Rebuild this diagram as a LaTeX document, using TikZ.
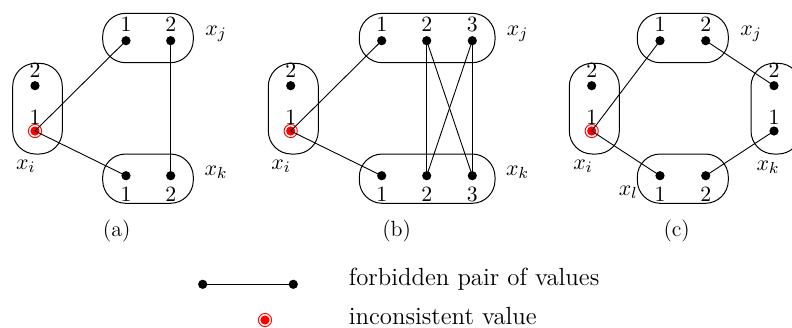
\documentclass[tikz,border=0pt]{standalone}
\begin{document}
\begin{tikzpicture}[x=0.5pt,y=-0.5pt,
 dot/.style={circle,fill=black,inner sep=0pt,minimum size=4.6pt},
 bad/.style={circle,draw=red,line width=0.45pt,fill=white,inner sep=0pt,minimum size=6.6pt,
   path picture={\fill[red] (path picture bounding box.center) circle (2.3pt);}},
 box/.style={draw,line width=0.5pt,rounded corners=11.5pt},
 conn/.style={line width=0.45pt},
 num/.style={font=\fontsize{10.9}{12}\selectfont,inner sep=0pt,anchor=base},
 var/.style={font=\fontsize{11}{12}\selectfont,inner sep=0pt,anchor=base},
 captxt/.style={font=\fontsize{11}{12}\selectfont,inner sep=0pt,anchor=base},
 leg/.style={font=\fontsize{12.4}{14}\selectfont,inner sep=0pt,anchor=base west}]
\useasboundingbox (0,0) rectangle (792,327);

% ---------- panel (a) ----------
\draw[box] (12.7,63.3) rectangle (62.3,154);
\draw[box] (102.7,13.3) rectangle (193.3,62.7);
\draw[box] (102.7,154) rectangle (193.3,203.3);
\node[dot] (ai2) at (35,85.7) {};
\node[bad] (ai1) at (35,131) {};
\node[dot] (aj1) at (126,40.7) {};
\node[dot] (aj2) at (170.7,40.7) {};
\node[dot] (ak1) at (126,175.7) {};
\node[dot] (ak2) at (170.7,175.7) {};
\node[num] (nai2) at (35,77.3) {2};
\node[num] (nai1) at (35,124) {1};
\node[num] (naj1) at (126,31.7) {1};
\node[num] (naj2) at (170.7,31.7) {2};
\node[num] (nak1) at (126,201.7) {1};
\node[num] (nak2) at (170.7,201.7) {2};
\node[var] (axi) at (25.7,169.3) {$x_i$};
\node[var] (axj) at (216,35) {$x_j$};
\node[var] (axk) at (216,175) {$x_k$};
\node[captxt] (capa) at (116.7,236.7) {(a)};
\draw[conn] (ai1.center) -- (aj1.center);
\draw[conn] (ai1.center) -- (ak1.center);
\draw[conn] (aj2.center) -- (ak2.center);

% ---------- panel (b) ----------
\draw[box] (268.3,63.3) rectangle (318.3,154);
\draw[box] (359.3,13.3) rectangle (495,62.7);
\draw[box] (359.3,154) rectangle (495,203.3);
\node[dot] (bi2) at (290.7,85.7) {};
\node[bad] (bi1) at (290.7,131) {};
\node[dot] (bj1) at (381.7,40.7) {};
\node[dot] (bj2) at (426.7,40.7) {};
\node[dot] (bj3) at (472.3,40.7) {};
\node[dot] (bk1) at (381.7,175.7) {};
\node[dot] (bk2) at (426.7,175.7) {};
\node[dot] (bk3) at (472.3,175.7) {};
\node[num] (nbi2) at (290.7,77.3) {2};
\node[num] (nbi1) at (290.7,124) {1};
\node[num] (nbj1) at (381.7,31.7) {1};
\node[num] (nbj2) at (426.7,31.7) {2};
\node[num] (nbj3) at (472.3,31.7) {3};
\node[num] (nbk1) at (381.7,201.7) {1};
\node[num] (nbk2) at (426.7,201.7) {2};
\node[num] (nbk3) at (472.3,201.7) {3};
\node[var] (bxi) at (281,169.3) {$x_i$};
\node[var] (bxj) at (517.5,35) {$x_j$};
\node[var] (bxk) at (517.5,175) {$x_k$};
\node[captxt] (capb) at (396.7,236.7) {(b)};
\draw[conn] (bi1.center) -- (bj1.center);
\draw[conn] (bi1.center) -- (bk1.center);
\draw[conn] (bj2.center) -- (bk2.center);
\draw[conn] (bj2.center) -- (bk3.center);
\draw[conn] (bj3.center) -- (bk2.center);
\draw[conn] (bj3.center) -- (bk3.center);

% ---------- panel (c) ----------
\draw[box] (569.3,63.3) rectangle (619.3,154);
\draw[box] (637.3,13.3) rectangle (728.3,62.7);
\draw[box] (751,63.3) rectangle (801,154);
\draw[box] (637.3,154) rectangle (728.3,203.3);
\node[dot] (ci2) at (591.7,85.7) {};
\node[bad] (ci1) at (591.7,131) {};
\node[dot] (cj1) at (660,40.7) {};
\node[dot] (cj2) at (705.7,40.7) {};
\node[dot] (ck2) at (774,85.7) {};
\node[dot] (ck1) at (774,131) {};
\node[dot] (cl1) at (660,175.7) {};
\node[dot] (cl2) at (705.7,175.7) {};
\node[num] (nci2) at (591.7,77.3) {2};
\node[num] (nci1) at (591.7,124) {1};
\node[num] (ncj1) at (660,31.7) {1};
\node[num] (ncj2) at (705.7,31.7) {2};
\node[num] (nck2) at (774,77.3) {2};
\node[num] (nck1) at (774,124) {1};
\node[num] (ncl1) at (660,201.7) {1};
\node[num] (ncl2) at (705.7,201.7) {2};
\node[var] (cxi) at (583,169.3) {$x_i$};
\node[var] (cxj) at (751,35) {$x_j$};
\node[var] (cxk) at (768,170) {$x_k$};
\node[var] (cxl) at (628.3,195) {$x_l$};
\node[captxt] (capc) at (676.7,236.7) {(c)};
\draw[conn] (ci1.center) -- (cj1.center);
\draw[conn] (ci1.center) -- (cl1.center);
\draw[conn] (cj2.center) -- (ck2.center);
\draw[conn] (ck1.center) -- (cl2.center);

% ---------- legend ----------
\node[dot] (ld1) at (202.7,284.3) {};
\node[dot] (ld2) at (293.3,284.3) {};
\draw[conn] (ld1.center) -- (ld2.center);
\node[bad] (lb) at (265,320) {};
\node[leg] (lt1) at (348.5,285) {forbidden pair of values};
\node[leg] (lt2) at (348.5,324.5) {inconsistent value};
\end{tikzpicture}
\end{document}
